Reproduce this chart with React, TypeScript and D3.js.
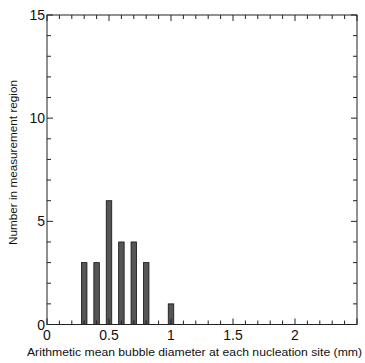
import React from "react";
import * as d3 from "d3";

const diameters = [0.3, 0.4, 0.5, 0.6, 0.7, 0.8, 1.0];
const counts = [3, 3, 6, 4, 4, 3, 1];
const xTicks = [0, 0.5, 1, 1.5, 2];
const xTickLabels = ["0", "0.5", "1", "1.5", "2"];
const yTicks = [0, 5, 10, 15];
const yTickLabels = ["0", "5", "10", "15"];
const xTitle = "Arithmetic mean bubble diameter at each nucleation site (mm)";
const yTitle = "Number in measurement region";

export default function App() {
  const W = 365, H = 363;
  const left = 47, right = 357, top = 15, bottom = 324.5;
  const x = d3.scaleLinear().domain([0, 2.5]).range([left, right]);
  const y = d3.scaleLinear().domain([0, 15]).range([bottom, top]);
  const xMinor = d3.range(0, 2.5001, 0.1).map((v) => Math.round(v * 10) / 10);
  const yMinor = d3.range(0, 15.001, 1);
  const barW = 5.5;
  const font = "Liberation Sans, Arial, sans-serif";
  const isMajorX = (v: number) => Math.abs(v * 2 - Math.round(v * 2)) < 1e-6;
  const isMajorY = (v: number) => v % 5 === 0;
  return (
    <svg width={W} height={H} style={{ position: "absolute", left: 0, top: 0 }} fontFamily={font}>
      <rect x={0} y={0} width={W} height={H} fill="#fff" />
      {diameters.map((d, i) => (
        <rect
          key={i}
          x={x(d) - barW / 2}
          y={y(counts[i])}
          width={barW}
          height={y(0) - y(counts[i])}
          fill="#555"
          stroke="#111"
          strokeWidth={0.8}
        />
      ))}
      {xMinor.map((v, i) => {
        const len = isMajorX(v) ? 6 : 4;
        return (
          <g key={"xt" + i} stroke="#222" strokeWidth={1}>
            <line x1={x(v)} x2={x(v)} y1={bottom} y2={bottom - len} />
            <line x1={x(v)} x2={x(v)} y1={top} y2={top + len} />
          </g>
        );
      })}
      {yMinor.map((v, i) => {
        const len = isMajorY(v) ? 6 : 4;
        return (
          <g key={"yt" + i} stroke="#222" strokeWidth={1}>
            <line x1={left} x2={left + len} y1={y(v)} y2={y(v)} />
            <line x1={right} x2={right - len} y1={y(v)} y2={y(v)} />
          </g>
        );
      })}
      <rect x={left} y={top} width={right - left} height={bottom - top} fill="none" stroke="#222" strokeWidth={1} />
      {xTicks.map((v, i) => (
        <text key={"xl" + i} x={x(v)} y={bottom + 15} textAnchor="middle" fontSize={14} fill="#111">
          {xTickLabels[i]}
        </text>
      ))}
      {yTicks.map((v, i) => (
        <text key={"yl" + i} x={left - 2} y={y(v) + 5} textAnchor="end" fontSize={14} fill="#111">
          {yTickLabels[i]}
        </text>
      ))}
      <text
        x={194.5}
        y={356}
        textAnchor="middle"
        fontSize={11.5}
        textLength={335}
        lengthAdjust="spacingAndGlyphs"
        fill="#111"
      >
        {xTitle}
      </text>
      <text
        transform={`translate(16.5, 162.5) rotate(-90)`}
        textAnchor="middle"
        fontSize={11.5}
        textLength={165}
        lengthAdjust="spacingAndGlyphs"
        fill="#111"
      >
        {yTitle}
      </text>
    </svg>
  );
}
